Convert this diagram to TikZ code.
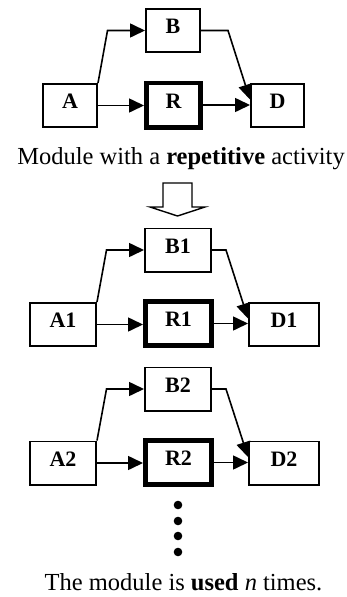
\documentclass[tikz,border=0pt]{standalone}
\usepackage{fontspec}
\setmainfont{Liberation Serif}
\usetikzlibrary{arrows.meta}
\begin{document}
\begin{tikzpicture}[x=1pt,y=-1pt,
  box/.style={draw, line width=1.8pt, minimum width=#1, minimum height=43.2pt,
    inner sep=0pt, font=\fontsize{22}{24}\selectfont\bfseries,
    text height=0.66em, text depth=0pt},
  box/.default=54.2,
  rbox/.style={box=#1, line width=4.8pt, minimum height=44.2pt},
  arr/.style={line width=1.6pt, -{Triangle[length=15pt,width=14pt]}},
  caption/.style={anchor=base, inner sep=0pt, font=\fontsize{24.5}{26}\selectfont}]
\useasboundingbox (0,0) rectangle (347,597);

% single module
\node[box=54.2] (A) at (70,105.5) {A};
\node[box=54.2] (B) at (173,30.5) {B};
\node[rbox=54.2] (R) at (173.5,105) {R};
\node[box=53.2] (D) at (277.5,105.5) {D};
\coordinate (ab) at ([xshift=9.5pt]A.north east);
\coordinate (bd) at ([xshift=-22pt]D.west);
\draw[arr] (A.north east) -- (ab |- B.west) -- (B.west);
\draw[arr] (B.east) -- (bd |- B.east) -- ([yshift=6pt]D.west);
\draw[arr] (A.east) -- (A.east -| R.west);
\draw[arr] (R.east) -- (R.east -| D.west);
\node[caption] (cap1) at (181,164.3) {Module with a \textbf{repetitive} activity};

% hollow arrow
\draw[line width=1.4pt, line join=miter] (163,183) -- (192,183) -- (192,207) -- (205,207)
  -- (177.5,216) -- (150,207) -- (163,207) -- cycle;

% first copy
\node[box=66.2] (A1) at (63,324.5) {A1};
\node[box=66.2] (B1) at (178,250) {B1};
\node[rbox=66.2] (R1) at (178.5,323.5) {R1};
\node[box=70.2] (D1) at (284,324.5) {D1};
\coordinate (ab1) at ([xshift=9.5pt]A1.north east);
\coordinate (bd1) at ([xshift=-22pt]D1.west);
\draw[arr] (A1.north east) -- (ab1 |- B1.west) -- (B1.west);
\draw[arr] (B1.east) -- (bd1 |- B1.east) -- ([yshift=6pt]D1.west);
\draw[arr] (A1.east) -- (A1.east -| R1.west);
\draw[arr] (R1.east) -- (R1.east -| D1.west);

% second copy
\node[box=66.2] (A2) at (63,463) {A2};
\node[box=66.2] (B2) at (178,389) {B2};
\node[rbox=66.2] (R2) at (178.5,462.5) {R2};
\node[box=70.2] (D2) at (284,463) {D2};
\coordinate (ab2) at ([xshift=9.5pt]A2.north east);
\coordinate (bd2) at ([xshift=-22pt]D2.west);
\draw[arr] (A2.north east) -- (ab2 |- B2.west) -- (B2.west);
\draw[arr] (B2.east) -- (bd2 |- B2.east) -- ([yshift=6pt]D2.west);
\draw[arr] (A2.east) -- (A2.east -| R2.west);
\draw[arr] (R2.east) -- (R2.east -| D2.west);

% continuation dots
\foreach \yy in {505,521,536,552}
  \fill (178,\yy) circle[radius=4.3pt];

\node[caption] (cap2) at (183.5,590) {The module is \textbf{used} \textit{n} times.};
\end{tikzpicture}
\end{document}
